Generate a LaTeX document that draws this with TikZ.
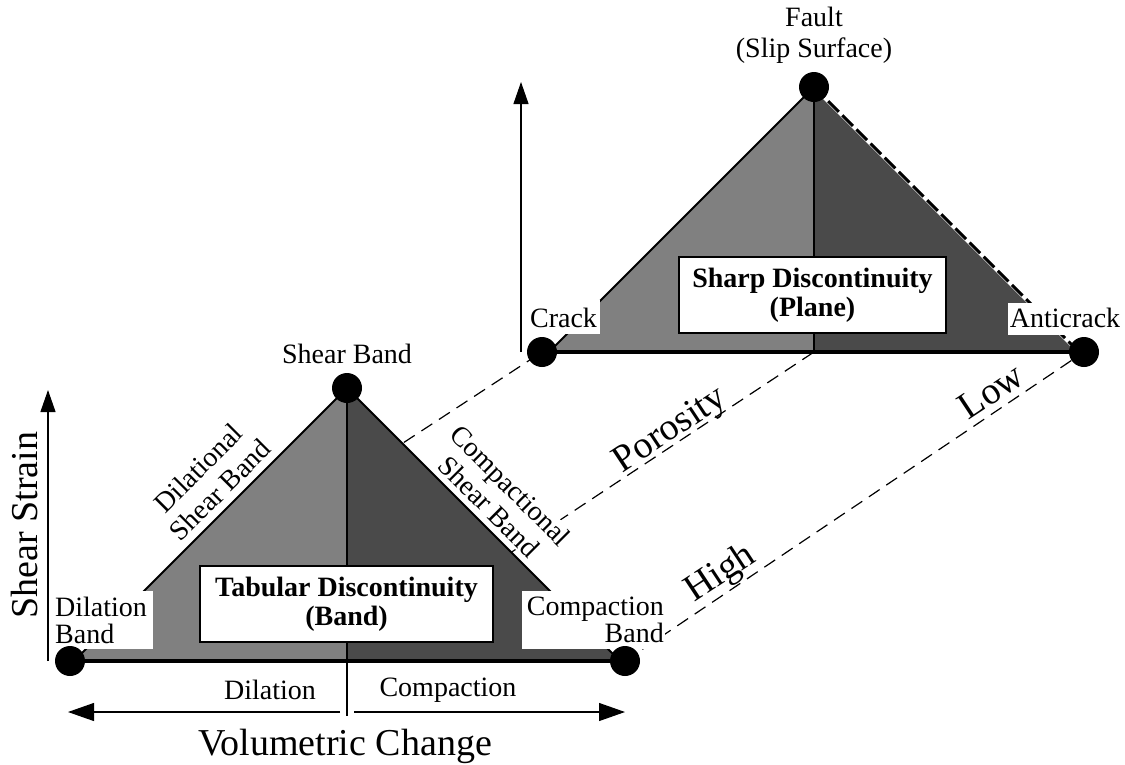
\documentclass[tikz,border=0pt]{standalone}
\usepackage{fontspec}
\setmainfont{Liberation Serif}
\usetikzlibrary{arrows.meta,shapes.geometric}
\definecolor{lightg}{HTML}{808080}
\definecolor{darkg}{HTML}{4A4A4A}
\tikzset{
  lbl/.style={font=\fontsize{28}{28}\selectfont, inner sep=0pt, align=center},
  biglbl/.style={font=\fontsize{38}{38}\selectfont, inner sep=0pt},
  whitebox/.style={fill=white, draw=none, inner sep=0pt},
  infobox/.style={fill=white, draw=black, line width=2pt, inner sep=0pt},
  boldlbl/.style={font=\fontsize{28}{29}\selectfont\bfseries, inner sep=0pt, align=center},
  dot/.style={circle, fill=black, minimum size=30pt, inner sep=0pt},
  link/.style={dash pattern=on 13pt off 8pt, line width=1.2pt},
  edge/.style={line width=2pt, line join=miter},
  axis/.style={line width=1.1pt, -{Triangle[length=22pt,width=15pt]}},
  haxis/.style={line width=1.1pt, -{Triangle[length=26pt,width=18pt]}}
}
\begin{document}
\begin{tikzpicture}[x=1pt,y=-1pt]
\useasboundingbox (0,0) rectangle (1125,764);
% key points
\coordinate (A1) at (347,388);
\coordinate (BL1) at (74,661);
\coordinate (BR1) at (620,661);
\coordinate (BC1) at (347,661);
\coordinate (A2) at (814,87);
\coordinate (BL2) at (549,352);
\coordinate (BR2) at (1079,352);
\coordinate (BC2) at (814,352);
\coordinate (L1) at (70,661);
\coordinate (R1) at (625,661);
\coordinate (L2) at (542,352);
\coordinate (R2) at (1084,352);
% dashed connectors (behind)
\draw[link] (L1) -- (L2);
\draw[link] (BC1) -- (BC2);
\draw[link] (R1) -- (R2);
% compactional label with white background (drawn before triangle)
\node[lbl, fill=white, rotate=-45, inner sep=1pt, font=\fontsize{28}{30}\selectfont] (cshear) at (500,496) {Compactional\\Shear Band};
% top triangle
\fill[lightg] (A2) -- (BL2) -- (BC2) -- cycle;
\fill[darkg] (A2) -- (BR2) -- (BC2) -- cycle;
\draw[edge] (BL2) -- (A2);
\draw[line width=4pt, white] (A2) -- (BR2);
\draw[line width=3pt, dash pattern=on 15pt off 5pt] (A2) -- (BR2);
\draw[edge] (A2) -- (BC2);
\draw[line width=4pt] (L2) -- (R2);
% bottom triangle
\fill[lightg] (A1) -- (BL1) -- (BC1) -- cycle;
\fill[darkg] (A1) -- (BR1) -- (BC1) -- cycle;
\draw[edge] (BL1) -- (A1) -- (BR1);
\draw[edge] (A1) -- (BC1);
\draw[line width=4pt] (L1) -- (R1);
% axes
\coordinate (vtop1) at (48,390);
\coordinate (vbot1) at (48,661);
\draw[axis] (vbot1) -- (vtop1);
\coordinate (vtop2) at (521,82);
\coordinate (vbot2) at (521,352);
\draw[axis] (vbot2) -- (vtop2);
\coordinate (tickbot) at (347,716);
\draw[line width=1.1pt] (BC1) -- (tickbot);
\coordinate (hl0) at (340,712);
\coordinate (hl1) at (68,712);
\coordinate (hr0) at (354,712);
\coordinate (hr1) at (625,712);
\draw[haxis] (hl0) -- (hl1);
\draw[haxis] (hr0) -- (hr1);
% white label boxes
\node[whitebox, minimum width=101pt, minimum height=58pt] (dbbox) at (102.5,620) {};
\node[lbl, align=left, anchor=west, font=\fontsize{28}{27}\selectfont] (dband) at (55,620) {Dilation\\Band};
\node[whitebox, minimum width=143pt, minimum height=58pt] (cbbox) at (593.5,620) {};
\node[lbl, align=right, anchor=east, font=\fontsize{28}{27}\selectfont] (cband) at (664,620) {Compaction\\Band};
\node[whitebox, minimum width=72pt, minimum height=34pt] (crbox) at (564,317) {};
\node[lbl] (crack) at (563.5,318) {Crack};
\node[whitebox, minimum width=114pt, minimum height=32pt] (acbox) at (1065,319) {};
\node[lbl] (acrack) at (1065,318) {Anticrack};
% info boxes
\node[infobox, minimum width=293pt, minimum height=76pt] (tab) at (346.5,604) {};
\node[boldlbl] at (tab) {Tabular Discontinuity\\(Band)};
\node[infobox, minimum width=267pt, minimum height=76pt] (sharp) at (812.5,295) {};
\node[boldlbl] at (sharp) {Sharp Discontinuity\\(Plane)};
% dots
\node[dot] (d1) at (L1) {};
\node[dot] (d2) at (R1) {};
\node[dot] (d3) at (A1) {};
\node[dot] (d4) at (L2) {};
\node[dot] (d5) at (R2) {};
\node[dot] (d6) at (A2) {};
% labels
\node[lbl, font=\fontsize{28}{31}\selectfont] (fault) at (814,35) {Fault\\(Slip Surface)};
\node[lbl] (sband) at (347,354) {Shear Band};
\node[lbl, rotate=45, font=\fontsize{28}{31}\selectfont] (dshear) at (209,479) {Dilational\\Shear Band};
\node[lbl] (dil) at (270,690) {Dilation};
\node[lbl] (comp) at (448,690) {Compaction};
\node[biglbl, anchor=base] (vol) at (345,755) {Volumetric Change};
\node[biglbl, rotate=90] (ss) at (25,525) {Shear Strain};
\node[biglbl, rotate=33.5] (por) at (671,431) {Porosity};
\node[biglbl, rotate=33.5] (high) at (721,574) {High};
\node[biglbl, rotate=33.5] (low) at (991,391) {Low};
\end{tikzpicture}
\end{document}
